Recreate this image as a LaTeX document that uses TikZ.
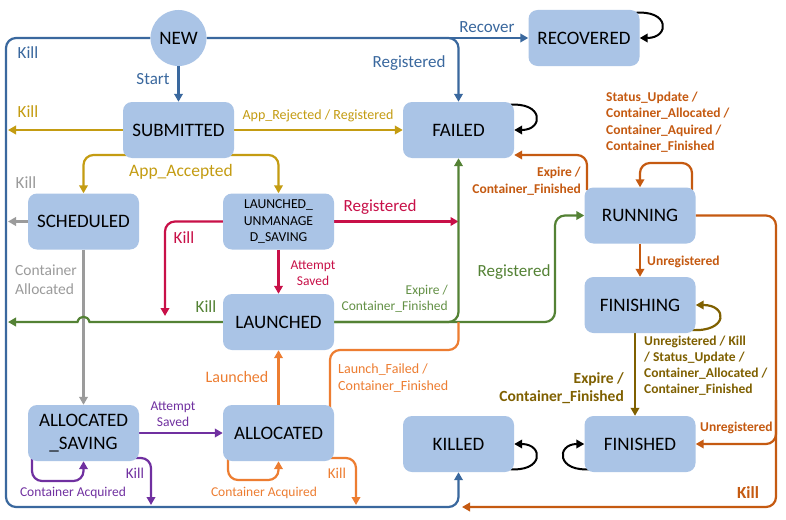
\documentclass[tikz,border=0pt]{standalone}
\usepackage{fontspec}
\setmainfont{Carlito}
\usetikzlibrary{arrows.meta,backgrounds,calc}
\definecolor{boxfill}{RGB}{170,196,230}
\definecolor{cblue}{RGB}{58,104,158}
\definecolor{cgold}{RGB}{196,156,18}
\definecolor{cgray}{RGB}{155,155,155}
\definecolor{ccrim}{RGB}{200,16,72}
\definecolor{cgreen}{RGB}{84,130,53}
\definecolor{cgreentx}{RGB}{100,145,70}
\definecolor{corange}{RGB}{237,125,49}
\definecolor{cpurple}{RGB}{112,48,160}
\definecolor{crust}{RGB}{197,90,17}
\definecolor{colive}{RGB}{127,96,0}
\newcommand{\fsz}[2]{\fontsize{#1}{#2}\selectfont}
\begin{document}
\begin{tikzpicture}[x=1pt,y=-1pt,
 stbox/.style={fill=boxfill, rounded corners=9pt, minimum width=111pt, minimum height=56pt, inner sep=0pt, align=center, font=\fsz{19}{23}},
 edge/.style={line width=2.2pt, -{Triangle[length=8pt,width=8.5pt]}},
 plain/.style={line width=2.2pt},
 loope/.style={line width=2pt, black, -{Triangle[length=8pt,width=8.5pt]}},
 lab/.style={inner sep=0pt},
 rc/.style={rounded corners=10pt}]
\useasboundingbox (0,0) rectangle (786,519);

% states
\node[circle, fill=boxfill, minimum size=56pt, inner sep=0pt, font=\fsz{19}{23}] (new) at (178.5,38) {NEW};
\node[stbox] (sub) at (178.5,130) {SUBMITTED};
\node[stbox] (rec) at (584,38) {RECOVERED};
\node[stbox] (fail) at (458.5,130) {FAILED};
\node[stbox] (sched) at (83.5,221.5) {SCHEDULED};
\node[stbox, font=\fsz{13.7}{16.5}] (lu) at (278.5,221.5) {LAUNCHED\_\\UNMANAGE\\D\_SAVING};
\node[stbox] (laun) at (278.5,322) {LAUNCHED};
\node[stbox] (run) at (640,215.5) {RUNNING};
\node[stbox] (fin) at (640,305) {FINISHING};
\node[stbox] (as) at (83.5,433) {ALLOCATED\\\_SAVING};
\node[stbox] (alloc) at (278.5,433) {ALLOCATED};
\node[stbox] (killed) at (458.5,444) {KILLED};
\node[stbox] (finished) at (640,444) {FINISHED};

% free ends
\coordinate (eK1) at (8,130);
\coordinate (eK2) at (8,221.5);
\coordinate (eK3) at (8,322);
\coordinate (eK4) at (165,316);
\coordinate (eJ1) at (458.5,221.5);
\coordinate (eK5) at (151,505);
\coordinate (eK6) at (356,505);
\coordinate (eK7) at (462,507);

\begin{pgfonlayer}{background}
\fill[white] (0,0) rectangle (786,519);
% blue
\draw[edge,cblue] (new) -- (sub);
\draw[edge,cblue,rc] (new.west) -- (6,38) -- (6,507) -- (458.5,507) -- (killed.south);
\draw[edge,cblue] (new.east) -- (rec.west);
\draw[edge,cblue,rc] (new.east) -- (458.5,38) -- (fail.north);
% black self loops
\draw[loope] (634,13) .. controls (670,9) and (670,38) .. (rec.east);
\draw[loope] (508,105) .. controls (544,101) and (544,130) .. (fail.east);
\draw[loope] (508,469) .. controls (544,473) and (544,444) .. (killed.east);
\draw[loope] (592,469) .. controls (556,473) and (556,444) .. (finished.west);
% gold
\draw[edge,cgold] (sub.west) -- (eK1);
\draw[edge,cgold] (sub.east) -- (fail.west);
\draw[edge,cgold,rc] (178.5,155) -- (83.5,155) -- (sched.north);
\draw[edge,cgold,rc] (178.5,155) -- (278.5,155) -- (lu.north);
% gray
\draw[edge,cgray] (sched.west) -- (eK2);
\draw[edge,cgray] (sched.south) -- (as.north);
% crimson
\draw[edge,ccrim,rc] (lu.west) -- (165,221.5) -- (eK4);
\draw[edge,ccrim] (lu.south) -- (laun.north);
\draw[edge,ccrim] (lu.east) -- (eJ1);
% green
\draw[edge,cgreen] (laun.west) -- (89.5,322) .. controls (88,315) and (79,315) .. (77.5,322) -- (eK3);
\draw[edge,cgreen,rc] (laun.east) -- (458.5,322) -- (fail.south);
\draw[edge,cgreen,rc] (laun.east) -- (555,322) -- (555,215.5) -- (run.west);
% orange
\draw[edge,corange] (alloc.north) -- (laun.south);
\draw[plain,corange,rc] (330,408) -- (330,350) -- (458.5,350) -- (458.5,322);
\draw[edge,corange,rc] (228,455) -- (228,480) -- (278.5,480) -- (alloc.south);
\draw[edge,corange,rc] (328,458) -- (356,458) -- (eK6);
% purple
\draw[edge,cpurple] (as.east) -- (alloc.west);
\draw[edge,cpurple,rc] (32,455) -- (32,481) -- (83.5,481) -- (as.south);
\draw[edge,cpurple,rc] (134,458) -- (151,458) -- (eK5);
% rust
\draw[edge,crust,rc] (587,190) -- (587,155) -- ([yshift=-25pt]fail.east);
\draw[edge,crust,rc] (692,190) -- (692,163) -- (640,163) -- (run.north);
\draw[edge,crust] (run.south) -- (fin.north);
\draw[edge,crust,rc] (run.east) -- (776,215.5) -- (776,507) -- (eK7);
\draw[edge,crust,rc] (776,400) -- (776,444) -- (finished.east);
% olive
\draw[edge,colive] ([xshift=-5pt]fin.south) -- ([xshift=-5pt]finished.north);
\draw[edge,colive,line width=2.2pt] (692,330) .. controls (728,332) and (728,305) .. (fin.east);
\end{pgfonlayer}

% labels
\node[lab,text=cblue,font=\fsz{17}{20}] at (28,53) {Kill};
\node[lab,text=cblue,font=\fsz{17}{20}] at (153,79) {Start};
\node[lab,text=cblue,font=\fsz{17}{20}] at (487,27) {Recover};
\node[lab,text=cblue,font=\fsz{17}{20}] at (409,63) {Registered};
\node[lab,text=cgold,font=\fsz{17}{20}] at (28,112) {Kill};
\node[lab,text=cgold,font=\fsz{14}{17}] at (318,116) {App\_Rejected / Registered};
\node[lab,text=cgold,font=\fsz{17.5}{20}] at (181,172) {App\_Accepted};
\node[lab,text=cgray,font=\fsz{17}{20}] at (26,183) {Kill};
\node[lab,text=cgray,font=\fsz{15.5}{19},align=left,anchor=west] at (15,280) {Container\\Allocated};
\node[lab,text=ccrim,font=\fsz{17}{20}] at (184,238) {Kill};
\node[lab,text=ccrim,font=\fsz{13.5}{15.5},align=center] at (313,273) {Attempt\\Saved};
\node[lab,text=ccrim,font=\fsz{17}{20}] at (380,207) {Registered};
\node[lab,text=cgreen,font=\fsz{17}{20}] at (206,307) {Kill};
\node[lab,text=cgreentx,font=\fsz{13.5}{16},align=right,anchor=east] at (448,299) {Expire /\\Container\_Finished};
\node[lab,text=cgreen,font=\fsz{17}{20}] at (514,272) {Registered};
\node[lab,text=corange,font=\fsz{16}{19}] at (237,377) {Launched};
\node[lab,text=corange,font=\fsz{14}{17},align=left,anchor=west] at (338,378) {Launch\_Failed /\\Container\_Finished};
\node[lab,text=corange,font=\fsz{13.5}{16}] at (264,493) {Container Acquired};
\node[lab,text=corange,font=\fsz{15}{18}] at (337,473) {Kill};
\node[lab,text=cpurple,font=\fsz{13.5}{16},align=center] at (173,414) {Attempt\\Saved};
\node[lab,text=cpurple,font=\fsz{13.5}{16}] at (73,493) {Container Acquired};
\node[lab,text=cpurple,font=\fsz{15}{18}] at (135,473) {Kill};
\node[lab,text=crust,font=\bfseries\fsz{13.5}{16.5},align=right,anchor=east] at (581,181) {Expire /\\Container\_Finished};
\node[lab,text=crust,font=\bfseries\fsz{13.5}{16.5},align=left,anchor=west] at (606,122) {Status\_Update /\\Container\_Allocated /\\Container\_Aquired /\\Container\_Finished};
\node[lab,text=crust,font=\bfseries\fsz{13.5}{16},anchor=west] at (647,262) {Unregistered};
\node[lab,text=crust,font=\bfseries\fsz{13.5}{16},anchor=west] at (700,428) {Unregistered};
\node[lab,text=crust,font=\bfseries\fsz{17}{20}] at (748,493) {Kill};
\node[lab,text=colive,font=\bfseries\fsz{15.5}{18},align=right,anchor=east] at (624,388) {Expire /\\Container\_Finished};
\node[lab,text=colive,font=\bfseries\fsz{13.5}{16},align=left,anchor=west] at (644,366) {Unregistered / Kill\\/ Status\_Update /\\Container\_Allocated /\\Container\_Finished};
\end{tikzpicture}
\end{document}
